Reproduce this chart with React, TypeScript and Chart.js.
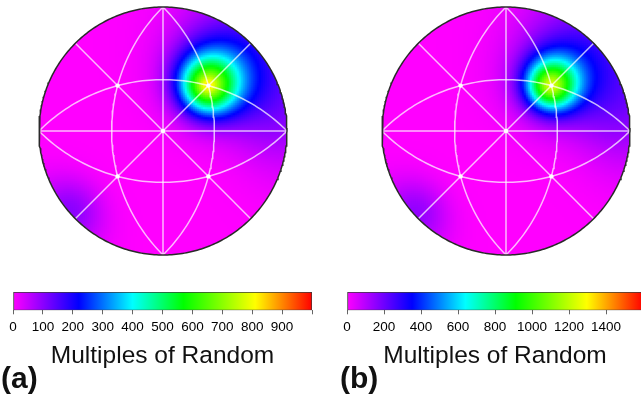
import { useEffect, useRef } from 'react';
import { Chart, registerables } from 'chart.js';

Chart.register(...registerables);

// ---------- Colour map (fraction of colour-bar maximum -> colour) ----------
const cmapStops = [0, 0.22, 0.4, 0.57, 0.81, 1];
const cmapColors = [
  [255, 0, 255],
  [0, 0, 255],
  [0, 255, 255],
  [0, 255, 0],
  [255, 255, 0],
  [255, 0, 0],
];

// ---------- Colour bars ----------
const barMaxA = 1000;
const tickStepA = 100;
const barMaxB = 1600;
const tickStepB = 200;
const axisTitle = 'Multiples of Random';
const panelLabels = ['(a)', '(b)'];

// ---------- Texture components: pole position (projection units), peak MRD, spread (deg) ----------
// order: sharp core, main peak, broad halo, upper-right edge band, right-edge band, lower-left edge patch
const poleXA = [0.365, 0.365, 0.365, 0.707, 0.95, -0.755];
const poleYA = [0.37, 0.37, 0.37, 0.707, 0.15, -0.656];
const mrdA = [80, 600, 130, 90, 80, 100];
const spreadA = [4, 15, 24, 20, 20, 12];

const poleXB = [0.365, 0.365, 0.365, 0.707, 0.95, -0.74];
const poleYB = [0.37, 0.37, 0.37, 0.707, 0.15, -0.67];
const mrdB = [40, 950, 210, 150, 130, 150];
const spreadB = [4, 13, 24, 20, 20, 12];

// ---------- Projection net ----------
const netArcCX = [-1, 1, 0, 0];
const netArcCY = [0, 0, -1, 1];
const netDiameterDeg = [0, 45, 90, 135];
const netNodeX = [0, 0.366, -0.366, -0.366, 0.366];
const netNodeY = [0, 0.366, 0.366, -0.366, -0.366];

const GRID_N = 124;
const FONT = "'Liberation Sans', Arial, Helvetica, sans-serif";

function rgbOf(c: number[]) {
  return `rgb(${Math.round(c[0])},${Math.round(c[1])},${Math.round(c[2])})`;
}

function colorAt(f: number) {
  const v = Math.max(0, Math.min(1, f));
  for (let i = 1; i < cmapStops.length; i++) {
    if (v <= cmapStops[i]) {
      const t = (v - cmapStops[i - 1]) / (cmapStops[i] - cmapStops[i - 1]);
      const a = cmapColors[i - 1];
      const b = cmapColors[i];
      return rgbOf([a[0] + (b[0] - a[0]) * t, a[1] + (b[1] - a[1]) * t, a[2] + (b[2] - a[2]) * t]);
    }
  }
  return rgbOf(cmapColors[cmapColors.length - 1]);
}

function toSphere(x: number, y: number) {
  const r2 = x * x + y * y;
  const d = 1 + r2;
  return [(2 * x) / d, (2 * y) / d, (1 - r2) / d];
}

function buildCells(px: number[], py: number[], mrd: number[], spread: number[], max: number) {
  const poles = px.map((x, i) => toSphere(x, py[i]));
  const pts: { x: number; y: number }[] = [];
  const cols: string[] = [];
  for (let i = 0; i < GRID_N; i++) {
    for (let j = 0; j < GRID_N; j++) {
      const x = -1 + ((i + 0.5) * 2) / GRID_N;
      const y = -1 + ((j + 0.5) * 2) / GRID_N;
      if (x * x + y * y > 1.05) continue;
      const v = toSphere(x, y);
      let s = 0;
      for (let k = 0; k < poles.length; k++) {
        const p = poles[k];
        const dot = Math.max(-1, Math.min(1, v[0] * p[0] + v[1] * p[1] + v[2] * p[2]));
        const ang = (Math.acos(dot) * 180) / Math.PI;
        s += mrd[k] * Math.exp(-(ang * ang) / (2 * spread[k] * spread[k]));
      }
      pts.push({ x, y });
      cols.push(colorAt(s / max));
    }
  }
  return { pts, cols };
}

function netLines() {
  const lines: { x: number; y: number }[][] = [];
  netDiameterDeg.forEach((deg) => {
    const a = (deg * Math.PI) / 180;
    lines.push([
      { x: -Math.cos(a), y: -Math.sin(a) },
      { x: Math.cos(a), y: Math.sin(a) },
    ]);
  });
  netArcCX.forEach((cx, i) => {
    const cy = netArcCY[i];
    const r = Math.sqrt(cx * cx + cy * cy + 1);
    const mid = Math.atan2(-cy, -cx);
    const pts: { x: number; y: number }[] = [];
    for (let k = 0; k <= 80; k++) {
      const t = mid - Math.PI / 4 + (k / 80) * (Math.PI / 2);
      pts.push({ x: cx + r * Math.cos(t), y: cy + r * Math.sin(t) });
    }
    lines.push(pts);
  });
  return lines;
}

function outlinePts() {
  const pts: { x: number; y: number }[] = [];
  for (let k = 0; k <= 360; k++) {
    const t = (k * Math.PI) / 180;
    pts.push({ x: Math.cos(t), y: Math.sin(t) });
  }
  return pts;
}

const circleClip = {
  id: 'circleClip',
  beforeDatasetDraw(chart: any, args: any) {
    if (!chart.data.datasets[args.index].clipCircle) return;
    const xs = chart.scales.x;
    const ys = chart.scales.y;
    const cx = xs.getPixelForValue(0);
    const cy = ys.getPixelForValue(0);
    const r = xs.getPixelForValue(1) - cx;
    chart.ctx.save();
    chart.ctx.beginPath();
    chart.ctx.arc(cx, cy, r, 0, Math.PI * 2);
    chart.ctx.clip();
  },
  afterDatasetDraw(chart: any, args: any) {
    if (!chart.data.datasets[args.index].clipCircle) return;
    chart.ctx.restore();
  },
};

function poleConfig(px: number[], py: number[], mrd: number[], spread: number[], max: number, padding: any) {
  const { pts, cols } = buildCells(px, py, mrd, spread, max);
  const nodes = netNodeX.map((x, i) => ({ x, y: netNodeY[i] }));
  const datasets: any[] = [
    { data: nodes, pointRadius: 2.2, pointBackgroundColor: '#ffffff', pointBorderWidth: 0, order: 0 },
    {
      data: outlinePts(),
      showLine: true,
      pointRadius: 0,
      borderColor: '#2a2a2a',
      borderWidth: 1.5,
      order: 1,
      clip: false,
    },
    ...netLines().map((l) => ({
      data: l,
      showLine: true,
      pointRadius: 0,
      borderColor: 'rgba(255,255,255,0.72)',
      borderWidth: 1.5,
      order: 2,
    })),
    {
      data: pts,
      pointStyle: 'rect',
      pointRadius: (2 / Math.SQRT2) * 1.2,
      pointBackgroundColor: cols,
      pointBorderWidth: 0,
      order: 10,
      clipCircle: true,
    },
  ];
  return {
    type: 'scatter',
    data: { datasets },
    options: {
      animation: false,
      responsive: false,
      events: [],
      layout: { padding },
      plugins: { legend: { display: false }, tooltip: { enabled: false }, title: { display: false } },
      scales: {
        x: { type: 'linear', min: -1, max: 1, display: false },
        y: { type: 'linear', min: -1, max: 1, display: false },
      },
    },
    plugins: [circleClip],
  } as any;
}

function barConfig(max: number, step: number, label: string, padL: number, padR: number, yw: number) {
  return {
    type: 'bar',
    data: {
      labels: [''],
      datasets: [
        {
          data: [[0, max]],
          backgroundColor: (c: any) => {
            const ch = c.chart;
            if (!ch.chartArea) return '#ff00ff';
            const xs = ch.scales.x;
            const g = ch.ctx.createLinearGradient(xs.getPixelForValue(0), 0, xs.getPixelForValue(max), 0);
            cmapStops.forEach((s, i) => g.addColorStop(s, rgbOf(cmapColors[i])));
            return g;
          },
          borderColor: '#3a3a3a',
          borderWidth: 1,
          borderSkipped: false,
          barPercentage: 1,
          categoryPercentage: 1,
        },
      ],
    },
    options: {
      indexAxis: 'y',
      animation: false,
      responsive: false,
      events: [],
      layout: { padding: { left: padL, right: padR, top: 12, bottom: 3 } },
      plugins: {
        legend: { display: false },
        tooltip: { enabled: false },
        subtitle: {
          display: true,
          text: axisTitle,
          position: 'bottom',
          align: 'center',
          fullSize: false,
          color: '#111111',
          font: { family: FONT, size: 24.5, weight: 'normal', lineHeight: 1 },
          padding: { top: 3, bottom: 0 },
        },
        title: {
          display: true,
          text: label,
          position: 'bottom',
          align: 'start',
          color: '#111111',
          font: { family: FONT, size: 30, weight: 'bold', lineHeight: 1 },
          padding: { top: -3, bottom: -4 },
        },
      },
      scales: {
        x: {
          type: 'linear',
          position: 'bottom',
          min: 0,
          max,
          ticks: {
            stepSize: step,
            autoSkip: false,
            maxRotation: 0,
            padding: 5,
            color: '#000000',
            font: { family: FONT, size: 13.5 },
            callback: (v: any) => (Number(v) >= max ? '' : String(v)),
          },
          grid: { display: true, drawOnChartArea: false, drawTicks: true, tickLength: 4, color: '#666666' },
          border: { display: false },
          title: { display: false },
        },
        y: {
          type: 'category',
          display: true,
          grid: { display: false },
          border: { display: false },
          ticks: { display: false },
          afterFit: (s: any) => {
            s.width = yw;
          },
        },
      },
    },
  } as any;
}

export default function App() {
  const poleA = useRef<HTMLCanvasElement>(null);
  const poleB = useRef<HTMLCanvasElement>(null);
  const barA = useRef<HTMLCanvasElement>(null);
  const barB = useRef<HTMLCanvasElement>(null);

  useEffect(() => {
    const charts = [
      new Chart(poleA.current!, poleConfig(poleXA, poleYA, mrdA, spreadA, barMaxA, { left: 4, right: 5, top: 4, bottom: 4 })),
      new Chart(poleB.current!, poleConfig(poleXB, poleYB, mrdB, spreadB, barMaxB, { left: 4, right: 6, top: 4, bottom: 4 })),
      new Chart(barA.current!, barConfig(barMaxA, tickStepA, panelLabels[0], 1, 18, 12)),
      new Chart(barB.current!, barConfig(barMaxB, tickStepB, panelLabels[1], 2, 4, 7)),
    ];
    return () => charts.forEach((c) => c.destroy());
  }, []);

  const abs = (l: number, t: number, w: number, h: number): any => ({
    position: 'absolute',
    left: l,
    top: t,
    width: w,
    height: h,
    display: 'block',
  });

  return (
    <div style={{ position: 'fixed', left: 0, top: 0, width: 641, height: 394, overflow: 'hidden', background: '#ffffff' }}>
      <canvas ref={poleA} width={257} height={256} style={abs(35, 3, 257, 256)} />
      <canvas ref={poleB} width={258} height={256} style={abs(378, 3, 258, 256)} />
      <canvas ref={barA} width={330} height={114} style={abs(0, 280, 330, 114)} />
      <canvas ref={barB} width={310} height={114} style={abs(338, 280, 310, 114)} />
    </div>
  );
}
